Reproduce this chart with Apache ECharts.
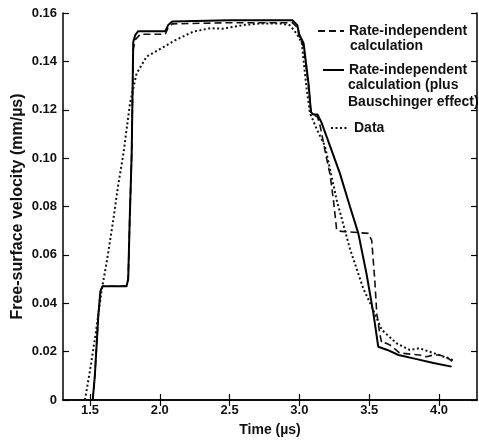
<!DOCTYPE html>
<html>
<head>
<meta charset="utf-8">
<script src="https://cdn.jsdelivr.net/npm/echarts@6/dist/echarts.min.js"></script>
<style>
  html, body { margin: 0; padding: 0; background: #fff; }
  #chart { width: 479px; height: 440px; }
</style>
</head>
<body>
<div id="chart"></div>
<script>
// --- données (temps en µs, vitesse en mm/µs) --- //
const xTicks = [1.5, 2.0, 2.5, 3.0, 3.5, 4.0];

const seriesNames = [
  'Rate-independent calculation',
  'Rate-independent calculation (plus Bauschinger effect)',
  'Data'
];

// lignes du texte de légende (première ligne = nom affiché par la légende)
const legendLines = [
  ['Rate-independent', 'calculation'],
  ['Rate-independent', 'calculation (plus', 'Bauschinger effect)'],
  ['Data']
];

const rateIndep = [
  [1.52, 0], [1.535, 0.01], [1.56, 0.035], [1.575, 0.045], [1.59, 0.047],
  [1.762, 0.047], [1.774, 0.05], [1.785, 0.075], [1.799, 0.102], [1.81, 0.145],
  [1.825, 0.149], [1.86, 0.1512], [2.04, 0.1512], [2.06, 0.154], [2.09, 0.1555],
  [2.5, 0.156], [2.95, 0.156], [2.985, 0.154], [3.0, 0.15], [3.03, 0.146],
  [3.065, 0.13], [3.083, 0.119], [3.1, 0.118], [3.13, 0.117], [3.15, 0.113],
  [3.183, 0.1032], [3.22, 0.093], [3.245, 0.082], [3.267, 0.0703], [3.3, 0.0697],
  [3.494, 0.0689], [3.518, 0.066], [3.54, 0.0496], [3.554, 0.036], [3.577, 0.027],
  [3.59, 0.0235], [3.62, 0.0235], [3.65, 0.0227], [3.72, 0.0194], [3.86, 0.0186],
  [3.91, 0.0179], [3.96, 0.0186], [4.0, 0.0186], [4.05, 0.0179], [4.1, 0.0158]
];

const bauschinger = [
  [1.52, 0], [1.535, 0.01], [1.56, 0.035], [1.575, 0.045], [1.59, 0.047],
  [1.762, 0.047], [1.774, 0.05], [1.785, 0.075], [1.799, 0.102], [1.81, 0.148],
  [1.825, 0.151], [1.846, 0.1525], [2.04, 0.1525], [2.06, 0.155], [2.09, 0.1565],
  [2.5, 0.157], [2.95, 0.157], [2.985, 0.155], [3.0, 0.151], [3.03, 0.1475],
  [3.065, 0.131], [3.083, 0.119], [3.1, 0.118], [3.13, 0.118], [3.16, 0.1145],
  [3.195, 0.1089], [3.29, 0.0937], [3.362, 0.08], [3.422, 0.0689], [3.48, 0.0524],
  [3.53, 0.0358], [3.565, 0.022], [3.63, 0.0207], [3.71, 0.0186], [3.84, 0.0169],
  [3.96, 0.0153], [4.09, 0.0138]
];

const data = [
  [1.464, 0], [1.5, 0.012], [1.54, 0.027], [1.584, 0.0455], [1.62, 0.057],
  [1.667, 0.0744], [1.70, 0.088], [1.74, 0.102], [1.787, 0.1227], [1.834, 0.135],
  [1.906, 0.142], [1.99, 0.1447], [2.12, 0.149], [2.24, 0.1523], [2.36, 0.1537],
  [2.45, 0.1535], [2.6, 0.155], [2.72, 0.1557], [2.86, 0.1557], [2.93, 0.155],
  [2.96, 0.153], [2.99, 0.1505], [3.017, 0.1476], [3.05, 0.1295], [3.076, 0.1186],
  [3.124, 0.112], [3.183, 0.105], [3.267, 0.0827], [3.362, 0.0625], [3.458, 0.046],
  [3.518, 0.0386], [3.59, 0.029], [3.697, 0.0234], [3.79, 0.0207], [3.86, 0.0214],
  [4.0, 0.0186], [4.1, 0.0165]
];

const fontFam = '"Liberation Sans", Arial, sans-serif';
const lineH = 16.5;

// --- une légende par série, positionnée à la main --- //
function legendBox(i, left, centerY, width) {
  return {
    data: [seriesNames[i]],
    left: left,
    top: centerY - lineH / 2,
    padding: 0,
    itemWidth: width,
    itemHeight: 14,
    selectedMode: false,
    itemStyle: { opacity: 0 },
    formatter: () => legendLines[i][0],
    textStyle: {
      fontFamily: fontFam, fontWeight: 'bold', fontSize: 14,
      color: '#111', lineHeight: lineH
    }
  };
}

// lignes suivantes du texte de légende
function legendMore(i, x, centerY) {
  return legendLines[i].slice(1).map((t, k) => ({
    type: 'text',
    left: x,
    top: centerY + (k + 1) * lineH - 8,
    style: {
      text: t, fill: '#111',
      font: 'bold 14px ' + fontFam
    }
  }));
}

const chart = echarts.init(document.getElementById('chart'), null, { renderer: 'canvas' });

const axisLine = { show: true, lineStyle: { color: '#000', width: 1.5 } };
const tick = { show: true, inside: true, length: 6, lineStyle: { color: '#000', width: 1.2 } };

chart.setOption({
  animation: false,
  grid: { left: 63, right: 2, top: 13, bottom: 40, outerBoundsMode: 'none' },
  legend: [
    legendBox(0, 317, 31, 26),
    legendBox(1, 322, 70, 21),
    legendBox(2, 330, 128, 18)
  ],
  graphic: [].concat(legendMore(0, 350, 31), legendMore(1, 348, 70)),
  xAxis: [
    {
      type: 'value', min: 1.307, max: 4.272, position: 'bottom',
      name: 'Time (\u00b5s)', nameLocation: 'middle', nameGap: 23, nameMoveOverlap: false,
      nameTextStyle: { fontFamily: fontFam, fontWeight: 'bold', fontSize: 14, color: '#111' },
      axisLine: axisLine,
      axisTick: Object.assign({ customValues: xTicks }, tick),
      axisLabel: {
        customValues: xTicks, margin: 4,
        fontFamily: fontFam, fontWeight: 'bold', fontSize: 13, color: '#111',
        formatter: v => v.toFixed(1)
      },
      splitLine: { show: false }
    },
    {
      type: 'value', min: 1.307, max: 4.272, position: 'top',
      axisLine: axisLine,
      axisTick: Object.assign({ customValues: xTicks }, tick),
      axisLabel: { show: false },
      splitLine: { show: false }
    }
  ],
  yAxis: [
    {
      type: 'value', min: 0, max: 0.16, interval: 0.02, position: 'left',
      name: 'Free-surface velocity (mm/\u00b5s)', nameLocation: 'middle', nameGap: 37,
      nameMoveOverlap: false,
      nameTextStyle: { fontFamily: fontFam, fontWeight: 'bold', fontSize: 16, color: '#111' },
      axisLine: axisLine,
      axisTick: tick,
      axisLabel: {
        margin: 6, fontFamily: fontFam, fontWeight: 'bold', fontSize: 13, color: '#111',
        formatter: v => (v === 0 ? '0' : v.toFixed(2))
      },
      splitLine: { show: false }
    },
    {
      type: 'value', min: 0, max: 0.16, interval: 0.02, position: 'right',
      axisLine: axisLine,
      axisTick: tick,
      axisLabel: { show: false },
      splitLine: { show: false }
    }
  ],
  series: [
    {
      name: seriesNames[0], type: 'line', data: rateIndep,
      symbol: 'none', showSymbol: false,
      itemStyle: { color: '#111' },
      lineStyle: { color: '#111', width: 1.6, type: [7, 4] }
    },
    {
      name: seriesNames[1], type: 'line', data: bauschinger,
      symbol: 'none', showSymbol: false,
      itemStyle: { color: '#000' },
      lineStyle: { color: '#000', width: 2 }
    },
    {
      name: seriesNames[2], type: 'line', data: data,
      symbol: 'none', showSymbol: false,
      itemStyle: { color: '#111' },
      lineStyle: { color: '#111', width: 2, type: [2, 2.5] }
    }
  ]
});
</script>
</body>
</html>
